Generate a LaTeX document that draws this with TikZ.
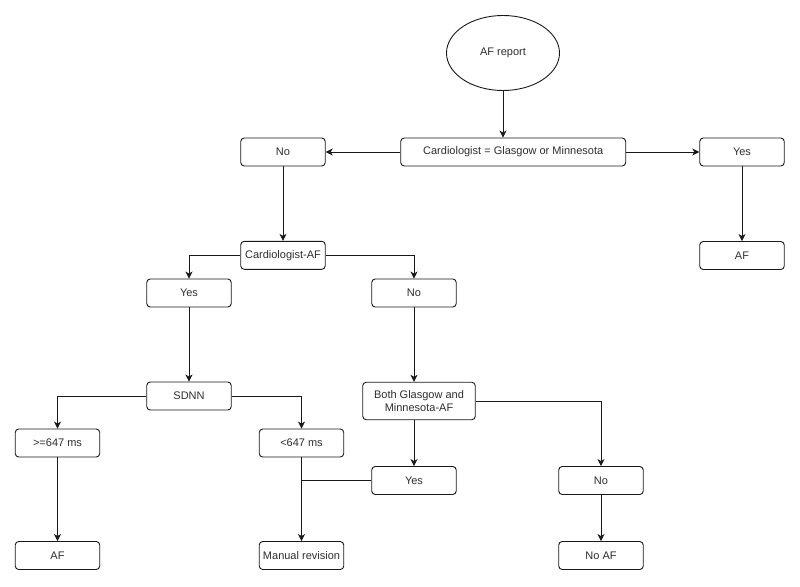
\documentclass[tikz,border=0pt]{standalone}
\usepackage{fontspec}
\setmainfont{Liberation Sans}
\usetikzlibrary{arrows.meta,shapes.geometric}
\definecolor{txt}{RGB}{45,45,45}
\definecolor{ln}{RGB}{25,25,25}
\begin{document}
\begin{tikzpicture}[x=1pt,y=-1pt,
  box/.style={draw=ln, line width=0.9pt, rounded corners=3.5pt, minimum width=84.5pt, minimum height=28pt, inner sep=0pt, text=txt, font=\fontsize{11}{12.5}\selectfont, align=center},
  oval/.style={draw=ln, line width=0.9pt, ellipse, minimum width=113pt, minimum height=75pt, inner sep=0pt, text=txt, font=\fontsize{11}{12.5}\selectfont},
  conn/.style={draw=ln, line width=0.9pt, -{Stealth[length=7pt,width=7pt,inset=2pt]}},
  plain/.style={draw=ln, line width=0.9pt}]
\useasboundingbox (0,0) rectangle (800,586);
\node[oval] (ell) at (503,53) {AF report};
\node[box, minimum width=225pt] (main) at (513.2,152) {Cardiologist = Glasgow or Minnesota};
\node[box] (noA) at (283,152) {No};
\node[box] (yesA) at (742,152) {Yes};
\node[box] (afA) at (742,255.5) {AF};
\node[box] (caf) at (283,255.3) {Cardiologist-AF};
\node[box] (yesB) at (189,293) {Yes};
\node[box] (noB) at (414,293) {No};
\node[box] (sdnn) at (189,396) {SDNN};
\node[box, minimum width=112.5pt, minimum height=37.5pt] (both) at (419,401) {Both Glasgow and\\Minnesota-AF};
\node[box] (ge) at (57.5,443) {>=647 ms};
\node[box] (lt) at (301.5,443) {<647 ms};
\node[box] (yesC) at (414,480.5) {Yes};
\node[box] (noC) at (601,480.5) {No};
\node[box] (afB) at (57.5,555.5) {AF};
\node[box] (man) at (301.5,555.5) {Manual revision};
\node[box] (noaf) at (601,555.5) {No AF};

\draw[conn] (ell.south) -- (ell.south |- main.north);
\draw[conn] (main.west) -- (noA.east);
\draw[conn] (main.east) -- (yesA.west);
\draw[conn] (yesA.south) -- (afA.north);
\draw[conn] (noA.south) -- (caf.north);
\draw[conn] (caf.west) -| (yesB.north);
\draw[conn] (caf.east) -| (noB.north);
\draw[conn] (yesB.south) -- (sdnn.north);
\draw[conn] (noB.south) -- (noB.south |- both.north);
\draw[conn] (sdnn.west) -| (ge.north);
\draw[conn] (sdnn.east) -| (lt.north);
\draw[conn] (ge.south) -- (afB.north);
\draw[conn] (lt.south) -- (man.north);
\draw[conn] (noB.south |- both.south) -- (yesC.north);
\draw[conn] (both.east) -| (noC.north);
\draw[conn] (noC.south) -- (noaf.north);
\coordinate (join) at (lt.south |- yesC.west);
\draw[plain] (yesC.west) -- (join);
\end{tikzpicture}
\end{document}
